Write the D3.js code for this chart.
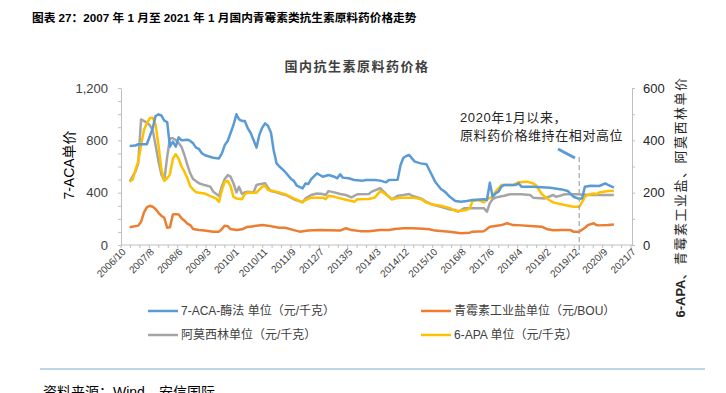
<!DOCTYPE html>
<html>
<head>
    <meta charset="utf-8">
    <title>国内抗生素原料药价格</title>
    <script src="https://d3js.org/d3.v7.min.js"></script>
    <style>
        body { margin: 0; background: #fff; }
        svg { display: block; font-family: "Liberation Sans", "Noto Sans CJK SC", sans-serif; }
        .axis path, .axis line { stroke: #bfbfbf; }
        .axis text { fill: #404040; font-size: 13px; }
    </style>
</head>
<body>
<div id="chart"></div>
<script>
    // x axis labels (one every 3 minor ticks)
    const tickLabels = ["2006/10", "2007/8", "2008/6", "2009/3", "2010/1", "2010/11", "2011/9", "2012/7",
        "2013/5", "2014/3", "2014/12", "2015/10", "2016/8", "2017/6", "2018/4", "2019/2", "2019/12",
        "2020/9", "2021/7"];

    // 7-ACA 酶法 (元/千克) - left axis
    const aca = [["2007-01", 757], ["2007-03", 760], ["2007-04", 770], ["2007-07", 770], ["2007-09", 892],
        ["2007-10", 986], ["2007-11", 999], ["2007-12", 990], ["2008-01", 950], ["2008-02", 940],
        ["2008-03", 751], ["2008-04", 790], ["2008-05", 751], ["2008-06", 823], ["2008-07", 800],
        ["2008-08", 802], ["2008-09", 805], ["2008-10", 795], ["2008-11", 777], ["2008-12", 744],
        ["2009-01", 734], ["2009-02", 701], ["2009-03", 688], ["2009-04", 680], ["2009-06", 667],
        ["2009-08", 662], ["2009-09", 701], ["2009-10", 764], ["2009-11", 795], ["2010-01", 917],
        ["2010-02", 999], ["2010-03", 960], ["2010-04", 948], ["2010-05", 948], ["2010-06", 892],
        ["2010-07", 858], ["2010-08", 802], ["2010-09", 744], ["2010-10", 841], ["2010-11", 897],
        ["2010-12", 930], ["2011-01", 910], ["2011-02", 860], ["2011-03", 726], ["2011-04", 624],
        ["2011-05", 600], ["2011-06", 580], ["2011-07", 558], ["2011-09", 505], ["2011-10", 490],
        ["2011-11", 453], ["2012-01", 433], ["2012-02", 471], ["2012-03", 466], ["2012-04", 504],
        ["2012-06", 548], ["2012-07", 535], ["2012-08", 522], ["2012-10", 535], ["2012-12", 522],
        ["2013-01", 510], ["2013-02", 540], ["2013-03", 515], ["2013-05", 510], ["2013-07", 497],
        ["2013-10", 492], ["2013-11", 497], ["2014-02", 497], ["2014-04", 492], ["2014-06", 479],
        ["2014-07", 497], ["2014-10", 499], ["2014-11", 611], ["2014-12", 667], ["2015-01", 680],
        ["2015-02", 688], ["2015-03", 662], ["2015-04", 637], ["2015-06", 624], ["2015-08", 617],
        ["2015-09", 573], ["2015-11", 484], ["2016-01", 428], ["2016-02", 413], ["2016-03", 395],
        ["2016-04", 370], ["2016-06", 336], ["2016-08", 331], ["2016-10", 336], ["2016-12", 344],
        ["2017-04", 349], ["2017-05", 344], ["2017-06", 476], ["2017-07", 369], ["2017-08", 395],
        ["2017-09", 408], ["2017-10", 446], ["2017-11", 459], ["2018-03", 459], ["2018-04", 471],
        ["2018-05", 446], ["2018-09", 446], ["2019-03", 438], ["2019-07", 425], ["2019-09", 413],
        ["2019-11", 369], ["2020-01", 352], ["2020-02", 357], ["2020-03", 446], ["2020-05", 453],
        ["2020-08", 451], ["2020-10", 471], ["2020-11", 459], ["2021-01", 438]];

    // 青霉素工业盐 (元/BOU) - right axis
    const penG = [["2007-01", 68], ["2007-04", 74], ["2007-05", 89], ["2007-06", 125], ["2007-07", 144],
        ["2007-08", 150], ["2007-09", 146], ["2007-10", 138], ["2007-11", 123], ["2007-12", 112],
        ["2008-01", 104], ["2008-02", 66], ["2008-03", 68], ["2008-04", 117], ["2008-05", 118],
        ["2008-06", 117], ["2008-07", 102], ["2008-08", 93], ["2008-09", 82], ["2008-10", 76],
        ["2008-11", 61], ["2009-01", 57], ["2009-03", 55], ["2009-06", 51], ["2009-08", 51],
        ["2009-09", 61], ["2009-10", 74], ["2009-11", 72], ["2009-12", 61], ["2010-02", 57],
        ["2010-04", 60], ["2010-06", 70], ["2010-07", 70], ["2010-09", 74], ["2010-11", 76],
        ["2011-01", 74], ["2011-03", 70], ["2011-05", 66], ["2011-07", 66], ["2011-10", 57],
        ["2011-12", 51], ["2012-03", 55], ["2012-07", 57], ["2012-10", 56], ["2013-02", 55],
        ["2013-04", 64], ["2013-06", 57], ["2013-09", 53], ["2013-12", 53], ["2014-04", 57],
        ["2014-07", 57], ["2014-09", 61], ["2014-12", 64], ["2015-03", 64], ["2015-07", 62],
        ["2015-09", 60], ["2015-11", 55], ["2016-02", 53], ["2016-04", 51], ["2016-08", 45],
        ["2016-11", 47], ["2016-12", 51], ["2017-04", 53], ["2017-06", 70], ["2017-08", 73],
        ["2017-10", 76], ["2017-12", 83], ["2018-02", 76], ["2018-05", 75], ["2018-08", 73],
        ["2018-12", 70], ["2019-02", 60], ["2019-04", 56], ["2019-07", 57], ["2019-10", 57],
        ["2019-11", 51], ["2020-01", 51], ["2020-03", 66], ["2020-04", 76], ["2020-06", 83],
        ["2020-07", 76], ["2020-08", 75], ["2020-11", 76], ["2021-01", 78]];

    // 阿莫西林 (元/千克) - right axis
    const amox = [["2007-01", 242], ["2007-03", 280], ["2007-04", 312], ["2007-05", 480], ["2007-07", 468],
        ["2007-08", 458], ["2007-09", 439], ["2007-10", 382], ["2007-11", 320], ["2007-12", 270],
        ["2008-01", 248], ["2008-02", 337], ["2008-03", 408], ["2008-04", 408], ["2008-05", 401],
        ["2008-06", 390], ["2008-07", 375], ["2008-08", 344], ["2008-09", 306], ["2008-10", 274],
        ["2008-11", 252], ["2009-01", 236], ["2009-03", 229], ["2009-05", 223], ["2009-06", 204],
        ["2009-08", 187], ["2009-09", 225], ["2009-10", 252], ["2009-11", 267], ["2009-12", 261],
        ["2010-01", 236], ["2010-02", 201], ["2010-03", 222], ["2010-04", 195], ["2010-05", 201],
        ["2010-06", 204], ["2010-08", 201], ["2010-09", 229], ["2010-10", 232], ["2010-12", 236],
        ["2011-01", 219], ["2011-02", 206], ["2011-04", 201], ["2011-06", 194], ["2011-07", 192],
        ["2011-10", 175], ["2012-01", 163], ["2012-02", 178], ["2012-04", 191], ["2012-06", 197],
        ["2012-08", 195], ["2012-09", 191], ["2012-10", 206], ["2012-12", 201], ["2013-02", 195],
        ["2013-04", 191], ["2013-06", 182], ["2013-08", 194], ["2013-12", 195], ["2014-01", 204],
        ["2014-04", 217], ["2014-05", 206], ["2014-07", 184], ["2014-08", 175], ["2014-10", 188],
        ["2014-12", 191], ["2015-02", 195], ["2015-03", 188], ["2015-06", 178], ["2015-08", 165],
        ["2015-10", 155], ["2016-01", 146], ["2016-04", 136], ["2016-06", 134], ["2016-07", 127],
        ["2016-09", 140], ["2017-04", 140], ["2017-05", 127], ["2017-06", 160], ["2017-07", 175],
        ["2017-08", 181], ["2017-10", 186], ["2017-11", 188], ["2018-01", 194], ["2018-05", 194],
        ["2018-08", 191], ["2018-09", 181], ["2019-01", 178], ["2019-04", 191], ["2019-05", 184],
        ["2019-06", 187], ["2019-08", 194], ["2019-12", 194], ["2020-05", 191], ["2021-01", 191]];

    // 6-APA (元/千克) - right axis
    const apa = [["2007-01", 242], ["2007-02", 250], ["2007-03", 285], ["2007-04", 320], ["2007-05", 380],
        ["2007-06", 440], ["2007-07", 465], ["2007-08", 485], ["2007-09", 486], ["2007-10", 460],
        ["2007-11", 382], ["2007-12", 290], ["2008-01", 245], ["2008-02", 255], ["2008-03", 270],
        ["2008-04", 330], ["2008-05", 347], ["2008-06", 330], ["2008-07", 300], ["2008-08", 280],
        ["2008-09", 255], ["2008-10", 225], ["2008-11", 212], ["2008-12", 202], ["2009-03", 197],
        ["2009-05", 187], ["2009-07", 178], ["2009-08", 165], ["2009-09", 210], ["2009-10", 242],
        ["2009-11", 245], ["2009-12", 225], ["2010-01", 184], ["2010-02", 178], ["2010-04", 175],
        ["2010-05", 194], ["2010-06", 201], ["2010-09", 200], ["2010-11", 223], ["2010-12", 227],
        ["2011-01", 210], ["2011-03", 206], ["2011-05", 201], ["2011-06", 197], ["2011-07", 194],
        ["2011-10", 178], ["2012-01", 163], ["2012-02", 172], ["2012-04", 181], ["2012-08", 181],
        ["2012-09", 175], ["2012-10", 188], ["2012-12", 184], ["2013-03", 176], ["2013-07", 165],
        ["2013-08", 175], ["2013-12", 176], ["2014-02", 181], ["2014-04", 206], ["2014-05", 201],
        ["2014-07", 184], ["2014-08", 175], ["2014-11", 181], ["2015-03", 181], ["2015-06", 176],
        ["2015-08", 162], ["2015-10", 155], ["2016-01", 150], ["2016-04", 142], ["2016-06", 130],
        ["2016-07", 130], ["2016-10", 134], ["2016-11", 140], ["2016-12", 168], ["2017-02", 172],
        ["2017-04", 163], ["2017-05", 175], ["2017-07", 184], ["2017-08", 204], ["2017-10", 229],
        ["2018-02", 229], ["2018-04", 240], ["2018-07", 242], ["2018-09", 235], ["2018-10", 229],
        ["2018-12", 195], ["2019-02", 176], ["2019-04", 163], ["2019-08", 153], ["2019-11", 146],
        ["2020-01", 146], ["2020-02", 165], ["2020-03", 185], ["2020-04", 191], ["2020-06", 197],
        ["2020-07", 194], ["2020-08", 201], ["2020-11", 206], ["2021-01", 206]];

    const markDate = "2020-01";

    const width = 726, height = 393;
    const parse = d3.timeParse("%Y-%m");

    const svg = d3.select("#chart").append("svg")
        .attr("width", width)
        .attr("height", height);

    svg.append("rect").attr("width", width).attr("height", height).attr("fill", "#fff");

    // titles
    svg.append("text")
        .attr("x", 32).attr("y", 22)
        .attr("font-size", 11.7).attr("font-weight", "bold").attr("fill", "#000")
        .text("图表 27：2007 年 1 月至 2021 年 1 月国内青霉素类抗生素原料药价格走势");

    svg.append("text")
        .attr("x", 357).attr("y", 71)
        .attr("text-anchor", "middle")
        .attr("font-size", 13).attr("font-weight", "bold").attr("fill", "#404040")
        .attr("letter-spacing", 1.5)
        .text("国内抗生素原料药价格");

    // scales
    const x = d3.scaleTime()
        .domain([parse("2006-10"), parse("2021-07")])
        .range([121, 631]);
    const nTicks = (tickLabels.length - 1) * 3;
    const xi = d3.scaleLinear().domain([0, nTicks]).range(x.range());
    const yL = d3.scaleLinear().domain([0, 1200]).range([245, 88]);
    const yR = d3.scaleLinear().domain([0, 600]).range([245, 88]);

    // left axis
    const gL = svg.append("g").attr("class", "axis")
        .attr("transform", "translate(121,0)")
        .call(d3.axisLeft(yL).tickValues(d3.range(0, 1201, 100))
            .tickFormat(d => d % 400 === 0 ? d3.format(",")(d) : "")
            .tickSizeInner(3).tickSizeOuter(0).tickPadding(10));

    // right axis
    const gR = svg.append("g").attr("class", "axis")
        .attr("transform", "translate(632,0)")
        .call(d3.axisRight(yR).tickValues(d3.range(0, 601, 100))
            .tickFormat(d => d % 200 === 0 ? d : "")
            .tickSizeInner(3).tickSizeOuter(0).tickPadding(8));
    gL.selectAll("text").style("fill", "#404040");
    gR.selectAll("text").style("fill", "#262626");

    // bottom axis
    const gX = svg.append("g").attr("class", "axis");
    gX.append("line")
        .attr("x1", xi(0)).attr("x2", xi(nTicks) + 1)
        .attr("y1", 245).attr("y2", 245);
    gX.selectAll(".minor").data(d3.range(nTicks + 1)).enter().append("line")
        .attr("x1", d => xi(d)).attr("x2", d => xi(d))
        .attr("y1", 245).attr("y2", 248);
    gX.selectAll(".lbl").data(tickLabels).enter().append("text")
        .attr("transform", (d, i) => "translate(" + (xi(i * 3) + 3) + ",250) rotate(-45)")
        .attr("text-anchor", "end")
        .attr("dy", "0.35em")
        .style("font-size", "10px")
        .style("fill", "#404040")
        .text(d => d);

    // axis titles
    svg.append("text")
        .attr("transform", "translate(74,165) rotate(-90)")
        .attr("text-anchor", "middle")
        .attr("font-size", 14).attr("fill", "#000")
        .text("7-ACA单价");

    const rt = svg.append("text")
        .attr("transform", "translate(685,197) rotate(-90)")
        .attr("text-anchor", "middle")
        .attr("font-size", 13).attr("fill", "#262626");
    rt.append("tspan").attr("font-weight", "bold").text("6-APA");
    rt.append("tspan").attr("letter-spacing", 1.5).text("、青霉素工业盐、阿莫西林单价");

    // lines
    const series = [
        { data: aca, y: yL, color: "#5b9bd5" },
        { data: penG, y: yR, color: "#ed7d31" },
        { data: amox, y: yR, color: "#a5a5a5" },
        { data: apa, y: yR, color: "#ffc000" }
    ];
    const drawOrder = [2, 3, 1, 0];
    drawOrder.forEach(k => {
        const s = series[k];
        const line = d3.line()
            .x(d => x(parse(d[0])))
            .y(d => s.y(d[1]));
        svg.append("path")
            .datum(s.data)
            .attr("fill", "none")
            .attr("stroke", s.color)
            .attr("stroke-width", 2.5)
            .attr("stroke-linejoin", "round")
            .attr("d", line);
    });

    // 2020/1 marker
    svg.append("line")
        .attr("x1", x(parse(markDate))).attr("x2", x(parse(markDate)))
        .attr("y1", 157).attr("y2", 255)
        .attr("stroke", "#a6a6a6").attr("stroke-width", 1.2)
        .attr("stroke-dasharray", "5,3");

    svg.append("line")
        .attr("x1", 558).attr("y1", 149).attr("x2", 575).attr("y2", 158)
        .attr("stroke", "#5b9bd5").attr("stroke-width", 3);

    const note = svg.append("text")
        .attr("font-size", 13).attr("fill", "#262626")
        .attr("letter-spacing", 0.6);
    note.append("tspan").attr("x", 460).attr("y", 122).text("2020年1月以来，");
    note.append("tspan").attr("x", 460).attr("y", 140).text("原料药价格维持在相对高位");

    // legend
    const legendItems = [
        { label: "7-ACA-酶法 单位（元/千克）", color: "#5b9bd5", x: 148, y: 311 },
        { label: "青霉素工业盐单位（元/BOU）", color: "#ed7d31", x: 421, y: 311 },
        { label: "阿莫西林单位（元/千克）", color: "#a5a5a5", x: 148, y: 335 },
        { label: "6-APA 单位（元/千克）", color: "#ffc000", x: 421, y: 335 }
    ];
    const lg = svg.selectAll(".legend").data(legendItems).enter().append("g")
        .attr("transform", d => "translate(" + d.x + "," + d.y + ")");
    lg.append("line")
        .attr("x1", 0).attr("x2", 30).attr("y1", 0).attr("y2", 0)
        .attr("stroke", d => d.color).attr("stroke-width", 2.5);
    lg.append("text")
        .attr("x", 33).attr("dy", "0.35em")
        .attr("font-size", 12).attr("fill", "#404040")
        .text(d => d.label);

    // source
    svg.append("line")
        .attr("x1", 40).attr("x2", 705).attr("y1", 369).attr("y2", 369)
        .attr("stroke", "#a9c4e6").attr("stroke-width", 1.5);
    svg.append("text")
        .attr("x", 43).attr("y", 397)
        .attr("font-size", 14).attr("fill", "#000")
        .text("资料来源：Wind，安信国际");
</script>
</body>
</html>
